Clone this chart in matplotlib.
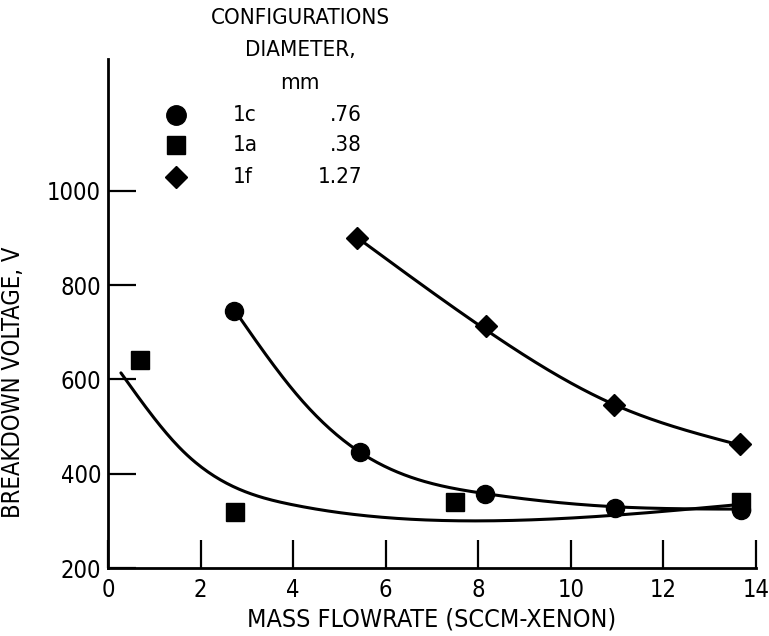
import matplotlib
matplotlib.use("Agg")
import matplotlib.pyplot as plt
import numpy as np

# Narrow lettering
plt.rcParams["font.family"] = ["DejaVu Sans"]
plt.rcParams["font.stretch"] = "condensed"

# Measured points, configuration 1c (0.76 mm)
flow_1c = [2.72, 5.44, 8.14, 10.95, 13.67]
volt_1c = [745, 446, 356, 328, 323]
# configuration 1a (0.38 mm)
flow_1a = [0.69, 2.74, 7.49, 13.67]
volt_1a = [641, 319, 340, 340]
# configuration 1f (1.27 mm)
flow_1f = [5.38, 8.16, 10.93, 13.65]
volt_1f = [900, 713, 546, 463]

# Faired curves drawn through each set
fair_1c_x = [2.75, 4.15, 5.44, 8.14, 10.95, 13.67]
fair_1c_y = [745, 560, 446, 358, 330, 325]
fair_1a_x = [0.28, 1.56, 4.0, 8.0, 13.67]
fair_1a_y = [614, 454, 334, 300, 335]
fair_1f_x = [5.4, 8.14, 10.91, 13.65]
fair_1f_y = [900, 707, 548, 461]

x_ticks = [0, 2, 4, 6, 8, 10, 12, 14]
y_ticks = [200, 400, 600, 800, 1000]


def smooth(xs, ys, n=300):
    # natural cubic spline through the faired points
    xs = np.asarray(xs, float)
    ys = np.asarray(ys, float)
    k = len(xs)
    h = np.diff(xs)
    A = np.zeros((k, k))
    r = np.zeros(k)
    A[0, 0] = A[-1, -1] = 1
    for j in range(1, k - 1):
        A[j, j - 1] = h[j - 1]
        A[j, j] = 2 * (h[j - 1] + h[j])
        A[j, j + 1] = h[j]
        r[j] = 6 * ((ys[j + 1] - ys[j]) / h[j] - (ys[j] - ys[j - 1]) / h[j - 1])
    M = np.linalg.solve(A, r)
    xx = np.linspace(xs[0], xs[-1], n)
    i = np.clip(np.searchsorted(xs, xx) - 1, 0, k - 2)
    a = xs[i + 1] - xx
    b = xx - xs[i]
    hi = h[i]
    yy = (M[i] * a**3 + M[i + 1] * b**3) / (6 * hi) \
        + (ys[i] / hi - M[i] * hi / 6) * a + (ys[i + 1] / hi - M[i + 1] * hi / 6) * b
    return xx, yy


fig = plt.figure(figsize=(7.69, 6.36), dpi=100)
ax = fig.add_axes([0.1404, 0.1069, 0.8426, 0.8003])

lw = 2.2
for cx, cy in [(fair_1c_x, fair_1c_y), (fair_1a_x, fair_1a_y), (fair_1f_x, fair_1f_y)]:
    sx, sy = smooth(cx, cy)
    ax.plot(sx, sy, color="black", lw=lw, solid_capstyle="round")

ax.plot(flow_1c, volt_1c, "o", color="black", ms=13, ls="none", clip_on=False)
ax.plot(flow_1a, volt_1a, "s", color="black", ms=13, ls="none", clip_on=False)
ax.plot(flow_1f, volt_1f, "D", color="black", ms=11, ls="none", clip_on=False)

ax.set_xlim(0, 14)
ax.set_ylim(200, 1280)
ax.set_xticks(x_ticks)
ax.set_yticks(y_ticks)
ax.tick_params(direction="in", length=20, width=1.6, labelsize=17, color="black")
ax.tick_params(axis="y", pad=5)
ax.tick_params(axis="x", pad=7)
for s in ["top", "right"]:
    ax.spines[s].set_visible(False)
for s in ["left", "bottom"]:
    ax.spines[s].set_linewidth(2.0)

ax.set_xlabel("MASS FLOWRATE (SCCM-XENON)", fontsize=18, labelpad=4)
ax.set_ylabel("BREAKDOWN VOLTAGE, V", fontsize=17)
ax.yaxis.set_label_coords(-0.128, 0.365)

# Key in the upper left, placed in figure pixels
W, H = 769, 636
def fx(px):
    return px / W
def fy(py):
    return 1 - py / H

fig.text(fx(300), fy(18), "CONFIGURATIONS", ha="center", va="center", fontsize=16)
fig.text(fx(300), fy(50), "DIAMETER,", ha="center", va="center", fontsize=16)
fig.text(fx(300), fy(83), "mm", ha="center", va="center", fontsize=16)

keys = [("o", 14, "1c", ".76"), ("s", 13, "1a", ".38"), ("D", 11, "1f", "1.27")]
rows = [115, 145, 177]
for (mk, ms, name, dia), py in zip(keys, rows):
    fig.add_artist(plt.Line2D([fx(176)], [fy(py)], marker=mk, ms=ms, color="black",
                              ls="none", transform=fig.transFigure))
    fig.text(fx(233), fy(py), name, ha="left", va="center", fontsize=16)
    fig.text(fx(362), fy(py), dia, ha="right", va="center", fontsize=16)

fig.savefig("out.png", dpi=100)
